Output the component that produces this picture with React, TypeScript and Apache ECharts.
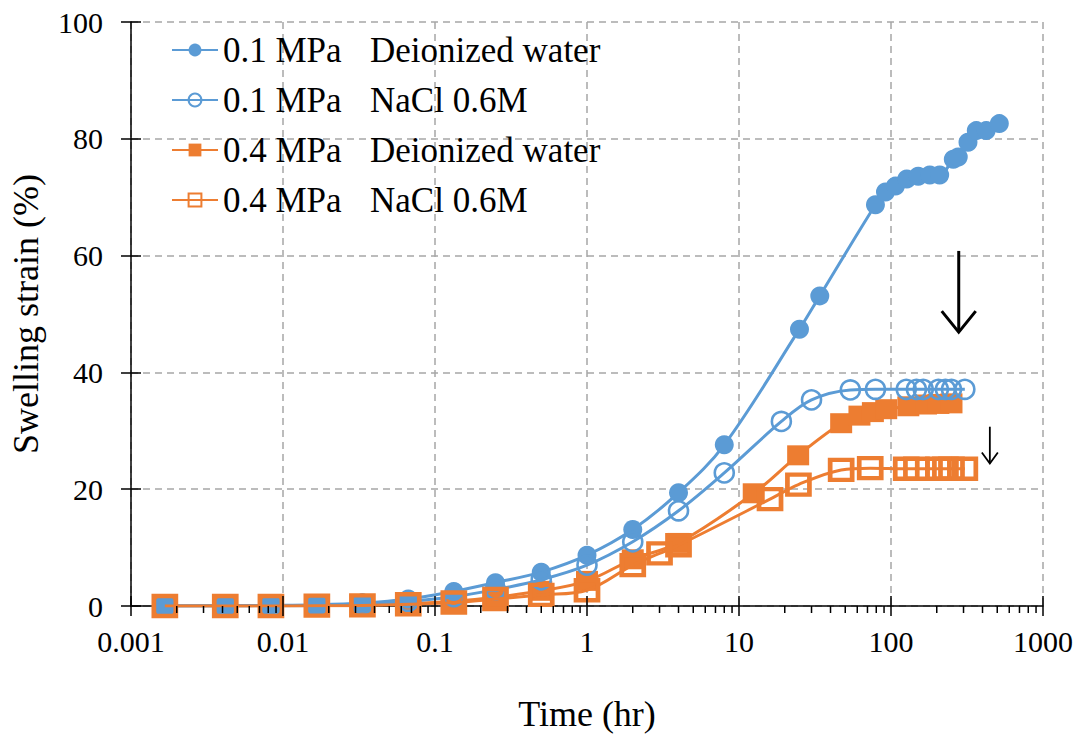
import React, { useEffect, useRef } from "react";
import * as echarts from "echarts";

// ---- data ----
const xTickLabels = ["0.001", "0.01", "0.1", "1", "10", "100", "1000"];
const yTickValues = [0, 20, 40, 60, 80, 100];

const pressures = ["0.1 MPa", "0.1 MPa", "0.4 MPa", "0.4 MPa"];
const fluids = ["Deionized water", "NaCl 0.6M", "Deionized water", "NaCl 0.6M"];

const tBlueDI = [0.00167, 0.00417, 0.00833, 0.0167, 0.0333, 0.0667, 0.133, 0.25, 0.5, 1, 2, 4, 8, 25, 34, 79, 92, 107, 127, 151, 180, 209, 257, 277, 321, 364, 423, 516];
const vBlueDI = [0, 0.05, 0.1, 0.2, 0.5, 1.2, 2.5, 4.0, 5.8, 8.7, 13.1, 19.4, 27.6, 47.4, 53.1, 68.7, 70.9, 71.9, 73.1, 73.6, 73.8, 73.8, 76.5, 76.9, 79.4, 81.4, 81.4, 82.6];

const tBlueNaCl = [0.00167, 0.00417, 0.00833, 0.0167, 0.0333, 0.0667, 0.133, 0.25, 0.5, 1, 2, 4, 8, 19, 30, 54, 79, 126, 147, 163, 205, 228, 250, 306];
const vBlueNaCl = [0, 0, 0.05, 0.1, 0.3, 0.8, 1.6, 2.8, 4.5, 7.0, 11.0, 16.3, 22.8, 31.6, 35.3, 37.0, 37.1, 37.1, 37.1, 37.1, 37.1, 37.1, 37.1, 37.1];

const tOrangeDI = [0.00167, 0.00417, 0.00833, 0.0167, 0.0333, 0.0667, 0.133, 0.25, 0.5, 1, 2, 4, 12.5, 24.5, 47, 62, 76, 93, 130, 170, 205, 250];
const vOrangeDI = [0, 0, 0.05, 0.1, 0.2, 0.4, 0.8, 1.5, 2.6, 4.3, 8.0, 10.8, 19.3, 25.8, 31.3, 32.6, 33.2, 33.7, 34.2, 34.5, 34.6, 34.7];

const tOrangeNaCl = [0.00167, 0.00417, 0.00833, 0.0167, 0.0333, 0.0667, 0.133, 0.25, 0.5, 1, 2, 3, 4, 16, 24.6, 47, 73, 126, 147, 205, 228, 250, 306];
const vOrangeNaCl = [0, 0, 0, 0.05, 0.1, 0.3, 0.6, 1.2, 1.9, 2.7, 7.0, 9.0, 10.4, 18.3, 20.8, 23.3, 23.6, 23.5, 23.5, 23.5, 23.5, 23.5, 23.5];

// annotation arrows (time, from strain, to strain)
const arrowTimes = [279, 447];
const arrowFrom = [60.8, 30.7];
const arrowTo = [46.9, 24.4];

const BLUE = "#5B9BD5";
const ORANGE = "#ED7D31";
const FONT = "Liberation Serif";

const pair = (t: number[], v: number[]) => t.map((x, i) => [x, v[i]]);

// tick positions along log axis
const majorTicks = [0.001, 0.01, 0.1, 1, 10, 100, 1000];
const minorTicks: number[] = [];
for (const d of [0.001, 0.01, 0.1, 1, 10, 100]) {
  for (let k = 2; k <= 9; k++) minorTicks.push(+(d * k).toPrecision(3));
}

export default function App() {
  const ref = useRef<HTMLDivElement>(null);
  useEffect(() => {
    if (!ref.current) return;
    const chart = echarts.init(ref.current, null, { renderer: "svg" });
    const names = pressures.map((p, i) => `${p}|${fluids[i]}`);
    const arrowStyles = [
      { w: 3, hw: 17, hh: 21 },
      { w: 1.8, hw: 8, hh: 11 },
    ];
    const lineSeries = (
      idx: number,
      t: number[],
      v: number[],
      symbol: string,
      size: any,
      filled: boolean,
      color: string,
      z: number
    ) => ({
      type: "line",
      name: names[idx],
      data: pair(t, v),
      smooth: 0.35,
      symbol,
      symbolSize: size,
      showAllSymbol: true,
      z,
      lineStyle: { color, width: 3 },
      itemStyle: filled
        ? { color, borderColor: color, borderWidth: 0 }
        : { color: "transparent", borderColor: color, borderWidth: symbol === "rect" ? 4.5 : 2.6 },
    });
    chart.setOption({
      animation: false,
      grid: { left: 130, right: 45, top: 22, bottom: 129, containLabel: false },
      legend: {
        data: names,
        orient: "vertical",
        left: 166,
        top: 27,
        itemWidth: 46,
        itemHeight: 16,
        itemGap: 14,
        selectedMode: false,
        formatter: (n: string) => {
          const [a, b] = n.split("|");
          return `{a|${a}}{b|${b}}`;
        },
        textStyle: {
          fontFamily: FONT,
          fontSize: 35,
          color: "#000",
          lineHeight: 36,
          rich: {
            a: { fontFamily: FONT, fontSize: 35, color: "#000", width: 147 },
            b: { fontFamily: FONT, fontSize: 35, color: "#000" },
          },
        },
      },
      xAxis: [
        {
          type: "log",
          logBase: 10,
          min: 0.001,
          max: 1000,
          splitNumber: 6,
          name: "Time (hr)",
          nameLocation: "middle",
          nameGap: 90,
          nameTextStyle: { fontFamily: FONT, fontSize: 36, color: "#000" },
          axisLine: { show: true, lineStyle: { color: "#000", width: 1.5 } },
          axisTick: { show: false },
          axisLabel: {
            fontFamily: FONT,
            fontSize: 30,
            color: "#000",
            margin: 20,
            formatter: (v: number) => xTickLabels[Math.round(Math.log10(v)) + 3],
          },
          splitLine: { show: true, lineStyle: { color: "#A6A6A6", width: 1.5, type: [7, 5] } },
        },
      ],
      yAxis: [
        {
          type: "value",
          min: 0,
          max: 100,
          interval: 20,
          name: "Swelling strain (%)",
          nameLocation: "middle",
          nameGap: 87,
          nameRotate: 90,
          nameTextStyle: { fontFamily: FONT, fontSize: 36, color: "#000" },
          axisLine: { show: true, lineStyle: { color: "#000", width: 1.5 } },
          axisTick: { show: true, inside: false, length: 10, lineStyle: { color: "#000", width: 1.5 } },
          axisLabel: {
            fontFamily: FONT,
            fontSize: 30,
            color: "#000",
            margin: 28,
            formatter: (v: number) => (yTickValues.includes(v) ? String(v) : ""),
          },
          splitLine: { show: true, lineStyle: { color: "#A6A6A6", width: 1.5, type: [7, 5] } },
        },
        {
          type: "value",
          min: 0,
          max: 100,
          interval: 20,
          position: "left",
          axisLine: { show: false },
          axisTick: { show: true, inside: true, length: 10, lineStyle: { color: "#000", width: 1.5 } },
          axisLabel: { show: false },
          splitLine: { show: false },
        },
      ],
      series: [
        lineSeries(2, tOrangeDI, vOrangeDI, "rect", [22, 20], true, ORANGE, 2),
        lineSeries(0, tBlueDI, vBlueDI, "circle", 19, true, BLUE, 3),
        lineSeries(1, tBlueNaCl, vBlueNaCl, "circle", 19, false, BLUE, 4),
        lineSeries(3, tOrangeNaCl, vOrangeNaCl, "rect", [22, 20], false, ORANGE, 5),
        {
          type: "custom",
          name: "xticks",
          silent: true,
          clip: false,
          z: 10,
          data: [
            ...majorTicks.map((t) => [t, 0, 1]),
            ...minorTicks.map((t) => [t, 0, 0]),
          ],
          encode: { x: 0, y: 1 },
          renderItem: (params: any, api: any) => {
            const p = api.coord([api.value(0), 0]);
            const major = api.value(2) === 1;
            return {
              type: "line",
              shape: { x1: p[0], y1: major ? p[1] - 10 : p[1], x2: p[0], y2: p[1] + (major ? 10 : 7) },
              style: { stroke: "#000", lineWidth: 1.5 },
            };
          },
        },
        {
          type: "custom",
          name: "arrows",
          silent: true,
          clip: false,
          z: 10,
          data: arrowTimes.map((t, i) => [t, arrowFrom[i], arrowTo[i]]),
          encode: { x: 0, y: [1, 2] },
          renderItem: (params: any, api: any) => {
            const t = api.value(0);
            const p1 = api.coord([t, api.value(1)]);
            const p2 = api.coord([t, api.value(2)]);
            const s = arrowStyles[params.dataIndex];
            return {
              type: "group",
              children: [
                { type: "line", shape: { x1: p1[0], y1: p1[1], x2: p2[0], y2: p2[1] }, style: { stroke: "#000", lineWidth: s.w } },
                {
                  type: "polyline",
                  shape: { points: [[p2[0] - s.hw, p2[1] - s.hh], [p2[0], p2[1]], [p2[0] + s.hw, p2[1] - s.hh]] },
                  style: { stroke: "#000", fill: "none", lineWidth: s.w },
                },
              ],
            };
          },
        },
      ],
    });
    return () => chart.dispose();
  }, []);
  return (
    <div
      ref={ref}
      style={{ position: "absolute", left: 0, top: 0, width: 1088, height: 737, background: "#fff" }}
    />
  );
}
